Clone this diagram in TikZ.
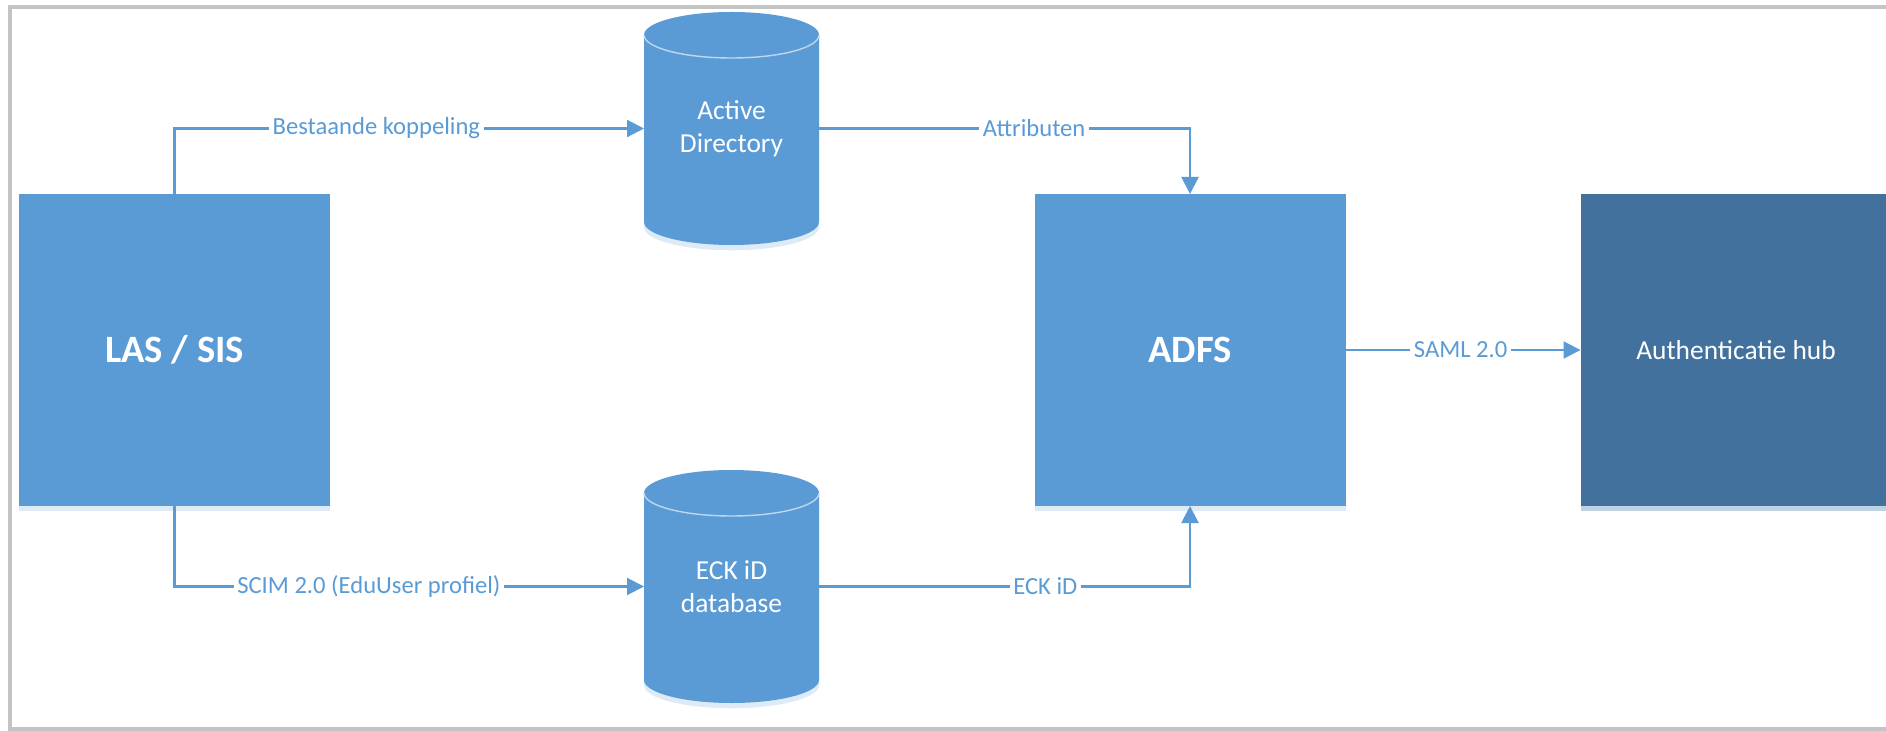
\documentclass[tikz,border=0pt]{standalone}
\usepackage{fontspec}
\setmainfont{Carlito}
\usetikzlibrary{positioning, arrows.meta, shadows}
\definecolor{boxblue}{HTML}{5B9BD5}
\definecolor{hubblue}{HTML}{41719C}
\definecolor{framegray}{HTML}{C4C4C4}
\definecolor{lidline}{HTML}{BDD7EE}
\pgfdeclarelayer{background}
\pgfsetlayers{background,main}
\tikzset{
    soft shadow/.style = {drop shadow={shadow xshift=0pt, shadow yshift=-1.5pt, opacity=.2, fill=#1}},
    block/.style = {rectangle, fill=boxblue, text=white, minimum width=3.11cm, minimum height=3.12cm,
        outer sep=0pt, font=\fontsize{11}{13}\selectfont\bfseries, soft shadow=boxblue},
    store/.style = {rectangle, text=white, minimum width=1.75cm, minimum height=2.33cm,
        inner sep=0pt, outer sep=0pt, align=center, font=\fontsize{7.8}{9.4}\selectfont},
    link/.style = {draw=boxblue, line width=0.6pt, -{Triangle[length=1.7mm, width=1.7mm]}},
    tag/.style = {fill=white, text=boxblue, inner sep=1pt, font=\fontsize{7}{8}\selectfont},
    lid/.style = {draw=lidline, line width=0.4pt},
}
% cylinder drawn behind a store node
\newcommand{\drum}[1]{%
    \fill[boxblue, soft shadow=boxblue] ([yshift=-0.23cm]#1.north west) -- ([yshift=0.23cm]#1.south west)
        arc[start angle=180, end angle=360, x radius=0.875cm, y radius=0.23cm]
        -- ([yshift=-0.23cm]#1.north east)
        arc[start angle=0, end angle=180, x radius=0.875cm, y radius=0.23cm] -- cycle;
    \draw[lid] ([yshift=-0.23cm]#1.north west) arc[start angle=180, end angle=360, x radius=0.875cm, y radius=0.23cm];
}

\begin{document}
\begin{tikzpicture}[every node/.style=on grid]
    \useasboundingbox (0,0) rectangle (18.86,-7.31);
    % frame, open on the right
    \draw[framegray, line width=1pt] (19,-0.07) -- (0.1,-0.07) -- (0.1,-7.29) -- (19,-7.29);

    \node[block] (las) at (1.745,-3.5) {LAS / SIS};
    \node[block] (adfs) [right=10.155cm of las] {ADFS};
    \node[block, fill=hubblue, font=\fontsize{7.8}{9}\selectfont, soft shadow=hubblue]
        (hub) [right=5.46cm of adfs] {Authenticatie hub};
    \node[store] (ad) [above right=2.215cm and 5.57cm of las] {Active\\Directory};
    \node[store] (eck) [below right=2.365cm and 5.57cm of las] {ECK iD\\database};

    \begin{pgfonlayer}{background}
        \drum{ad}
        \drum{eck}
    \end{pgfonlayer}

    \draw[link] (las.north) |- node[tag, pos=0.715] {Bestaande koppeling} (ad.west);
    \draw[link] (ad.east) -| node[tag, pos=0.29] {Attributen} (adfs.north);
    \draw[link] (las.south) |- node[tag, pos=0.707] {SCIM 2.0 (EduUser profiel)} (eck.west);
    \draw[link] (eck.east) -| node[tag, pos=0.305] {ECK iD} (adfs.south);
    \draw[link] (adfs.east) -- node[tag, pos=0.49] {SAML 2.0} (hub.west);
\end{tikzpicture}
\end{document}
